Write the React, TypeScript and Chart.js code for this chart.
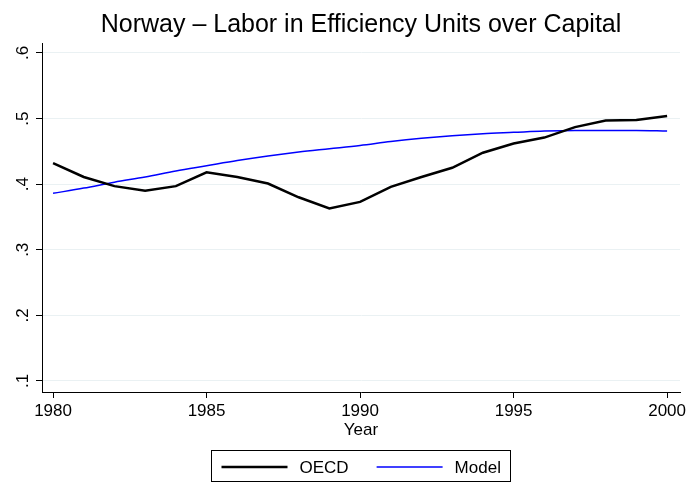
import React, { useEffect, useRef } from 'react';
import { Chart, registerables } from 'chart.js';

Chart.register(...registerables);

const years = [1980, 1981, 1982, 1983, 1984, 1985, 1986, 1987, 1988, 1989, 1990, 1991, 1992, 1993, 1994, 1995, 1996, 1997, 1998, 1999, 2000];
const oecd = [0.432, 0.411, 0.397, 0.390, 0.397, 0.418, 0.411, 0.401, 0.380, 0.363, 0.373, 0.396, 0.411, 0.425, 0.448, 0.462, 0.471, 0.487, 0.497, 0.498, 0.504];
const model = [0.386, 0.394, 0.403, 0.411, 0.420, 0.428, 0.436, 0.443, 0.449, 0.454, 0.459, 0.465, 0.470, 0.474, 0.477, 0.479, 0.481, 0.482, 0.482, 0.482, 0.481];
const xTicks = [1980, 1985, 1990, 1995, 2000];
const yTicks = [0.1, 0.2, 0.3, 0.4, 0.5, 0.6];
const seriesLabels = ['OECD', 'Model'];
const seriesColors = ['#000000', '#0000ff'];
const seriesWidths = [2.5, 1.5];
const titleText = 'Norway – Labor in Efficiency Units over Capital';
const xTitle = 'Year';

const FAMILY = '"Liberation Sans", Arial, Helvetica, sans-serif';
const fmtY = (v: number) => v.toFixed(1).replace(/^0/, '');

const deco = {
  id: 'deco',
  afterDraw(chart: any) {
    const ctx = chart.ctx as CanvasRenderingContext2D;
    const ca = chart.chartArea;
    const cx = (ca.left + ca.right) / 2;
    ctx.save();
    ctx.fillStyle = '#000';
    ctx.textAlign = 'center';
    ctx.textBaseline = 'alphabetic';
    ctx.font = `25px ${FAMILY}`;
    ctx.fillText(titleText, cx, ca.top - 11.5);

    // y tick labels, rotated
    const ys = chart.scales.y;
    ctx.font = `17px ${FAMILY}`;
    yTicks.forEach((v) => {
      const py = ys.getPixelForValue(v);
      ctx.save();
      ctx.translate(ys.right - 14.5, py);
      ctx.rotate(-Math.PI / 2);
      ctx.textAlign = 'center';
      ctx.textBaseline = 'alphabetic';
      ctx.fillText(fmtY(v), 0, 0);
      ctx.restore();
    });

    // x axis title
    ctx.textAlign = 'center';
    ctx.fillText(xTitle, cx, ca.bottom + 43);

    // legend
    const pad = 10, lineW = 66, gap1 = 12, gap2 = 28;
    const w0 = ctx.measureText(seriesLabels[0]).width;
    const w1 = ctx.measureText(seriesLabels[1]).width;
    const total = pad + lineW + gap1 + w0 + gap2 + lineW + gap1 + w1 + pad;
    const lx = Math.round(cx - total / 2) + 0.5;
    const top = ca.bottom + 58.5;
    ctx.strokeStyle = '#000';
    ctx.lineWidth = 1;
    ctx.strokeRect(lx, top, Math.round(total), 31);
    const ly = top + 16.5;
    let x = lx + pad;
    const widths = [w0, w1];
    for (let i = 0; i < 2; i++) {
      ctx.beginPath();
      ctx.strokeStyle = seriesColors[i];
      ctx.lineWidth = seriesWidths[i];
      ctx.moveTo(x, ly);
      ctx.lineTo(x + lineW, ly);
      ctx.stroke();
      x += lineW + gap1;
      ctx.textAlign = 'left';
      ctx.fillText(seriesLabels[i], x, ly + 6);
      x += widths[i] + gap2;
    }
    ctx.restore();
  },
};

export default function App() {
  const ref = useRef<HTMLCanvasElement | null>(null);
  useEffect(() => {
    if (!ref.current) return;
    const chart = new Chart(ref.current, {
      type: 'line',
      data: {
        datasets: [
          {
            label: seriesLabels[0],
            data: years.map((x, i) => ({ x, y: oecd[i] })),
            borderColor: seriesColors[0],
            borderWidth: seriesWidths[0],
            pointRadius: 0,
            tension: 0,
            fill: false,
          },
          {
            label: seriesLabels[1],
            data: years.map((x, i) => ({ x, y: model[i] })),
            borderColor: seriesColors[1],
            borderWidth: seriesWidths[1],
            pointRadius: 0,
            cubicInterpolationMode: 'monotone',
            fill: false,
          },
        ],
      },
      options: {
        animation: false,
        responsive: false,
        events: [],
        layout: { padding: { top: 43, right: 10, bottom: 46, left: 0 } },
        plugins: {
          legend: { display: false },
          title: { display: false },
          tooltip: { enabled: false },
        },
        scales: {
          x: {
            type: 'linear',
            min: 1979.64,
            max: 2000.42,
            afterBuildTicks: (s: any) => {
              s.ticks = xTicks.map((v) => ({ value: v }));
            },
            afterFit: (s: any) => {
              s.height = 44;
            },
            grid: { drawOnChartArea: false, tickLength: 6, tickColor: '#000' },
            border: { color: '#000', width: 1 },
            ticks: {
              font: { family: FAMILY, size: 17 },
              color: '#000',
              padding: 3,
              maxRotation: 0,
              autoSkip: false,
              callback: (v: any) => String(v),
            },
          },
          y: {
            type: 'linear',
            min: 0.0832,
            max: 0.6152,
            afterBuildTicks: (s: any) => {
              s.ticks = yTicks.map((v) => ({ value: v }));
            },
            afterFit: (s: any) => {
              s.width = 42;
            },
            grid: { color: '#eaf1f3', lineWidth: 1, tickLength: 6, tickColor: '#000' },
            border: { color: '#000', width: 1 },
            ticks: { display: false },
          },
        },
      },
      plugins: [deco],
    } as any);
    return () => chart.destroy();
  }, []);
  return (
    <div style={{ position: 'absolute', left: 0, top: 0, width: 690, height: 482, background: '#fff' }}>
      <canvas ref={ref} width={690} height={482} style={{ display: 'block' }} />
    </div>
  );
}
